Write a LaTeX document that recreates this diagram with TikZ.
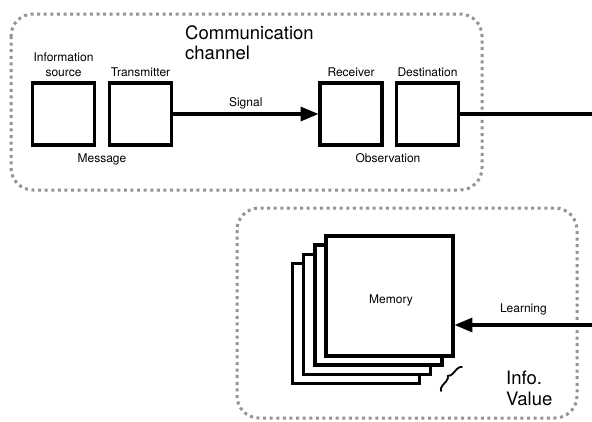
\documentclass[tikz,border=0pt]{standalone}
\usepackage{fontspec}
\setmainfont{TeX Gyre Heros}
\usetikzlibrary{arrows,positioning,decorations.pathreplacing}

\tikzset{
  block/.style={draw,line width=3.6pt,line join=miter,fill=white,minimum width=62pt,minimum height=62pt,inner sep=0pt},
  sheet/.style={draw,line width=3.6pt,line join=miter,fill=white,minimum width=127pt,minimum height=120pt,inner sep=0pt},
  lbl/.style={font=\fontsize{12}{15}\selectfont,inner sep=0pt,align=center},
  biglbl/.style={font=\fontsize{18.5}{20.5}\selectfont,inner sep=0pt,align=left},
  frame/.style={draw=gray!85,line width=3pt,line cap=butt,dash pattern=on 3pt off 3.6pt,rounded corners=22pt},
  wire/.style={line width=3.2pt}
}

\begin{document}
\begin{tikzpicture}[line cap=round,line join=round,>=triangle 45,x=1pt,y=-1pt]
\useasboundingbox (0,0) rectangle (592,421);
% dotted groups
\draw[frame] (11,14) rectangle (482,190);
\draw[frame] (237,208) rectangle (577,418);
\node[biglbl,anchor=north west] (chantitle) at (185,25) {Communication\\channel};
\node[biglbl,anchor=north west] (valtitle) at (506,371) {Info.\\Value};

% channel
\node[block] (source) at (63.5,114) {};
\node[block] (transmitter) at (140.5,114) {};
\node[block] (receiver) at (351,114) {};
\node[block] (destination) at (427.5,114) {};
\node[lbl,above=4pt of source] (sourcelbl) {Information\\source};
\node[lbl,above=4pt of transmitter] (transmitterlbl) {Transmitter};
\node[lbl,above=4pt of receiver] (receiverlbl) {Receiver};
\node[lbl,above=4pt of destination] (destinationlbl) {Destination};
\node[lbl,anchor=base] (message) at (102,162) {Message};
\node[lbl,anchor=base] (observation) at (388,162) {Observation};
\draw[wire,->] (transmitter) -- (receiver) node[lbl,midway,anchor=base,yshift=8pt] (signal) {Signal};
\coordinate (exit) at (592,114);
\draw[wire] (destination) -- (exit);

% memory stack
\foreach \i in {3,2,1,0}
  \node[sheet] (mem\i) at ({389.5-11.2*\i},{296+9.2*\i}) {};
\node[lbl,anchor=base] (memory) at (391,303) {Memory};
\coordinate (entry) at (592,325);
\draw[wire,->] (entry) -- (entry -| mem0.east) node[lbl,midway,anchor=base,yshift=13pt] (learning) {Learning};
\draw[line width=1.8pt,decorate,decoration={brace,amplitude=5pt}] (441,391) -- (462,367);
\end{tikzpicture}
\end{document}
